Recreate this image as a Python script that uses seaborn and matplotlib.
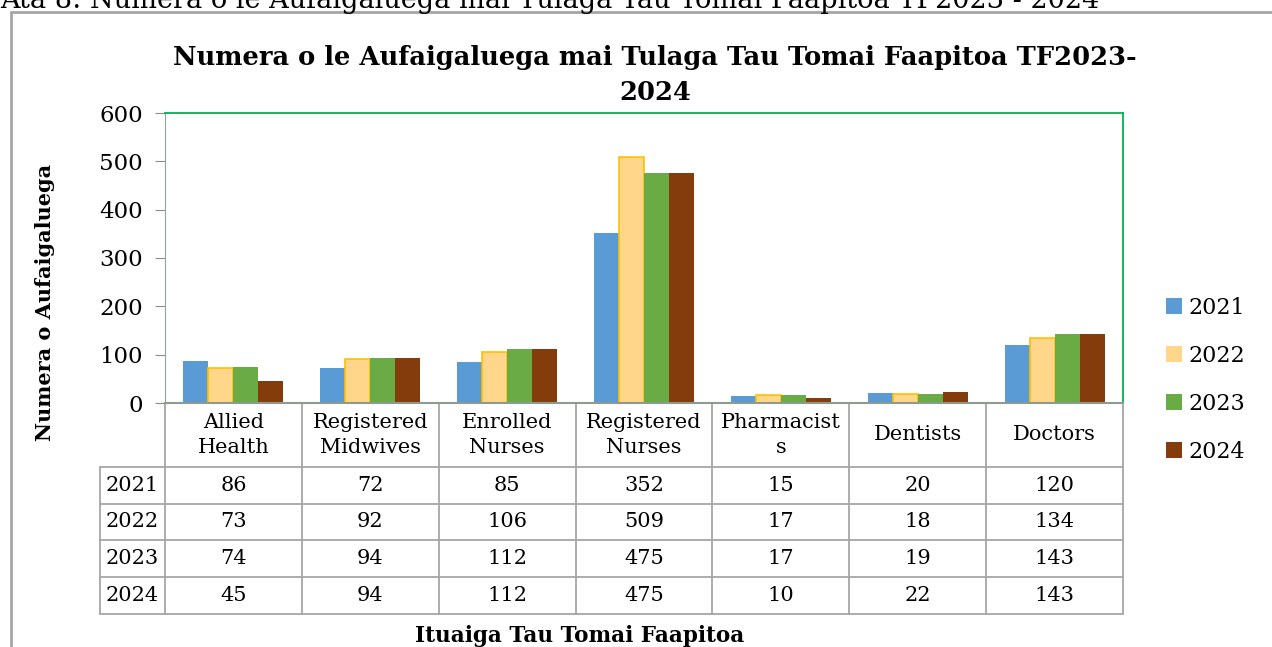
import pandas as pd
import seaborn as sns
import matplotlib.pyplot as plt
import matplotlib.transforms as mtransforms
from matplotlib.lines import Line2D

# data
categories = ["Allied\nHealth", "Registered\nMidwives", "Enrolled\nNurses", "Registered\nNurses",
              "Pharmacist\ns", "Dentists", "Doctors"]
years = ["2021", "2022", "2023", "2024"]
v2021 = [86, 72, 85, 352, 15, 20, 120]
v2022 = [73, 92, 106, 509, 17, 18, 134]
v2023 = [74, 94, 112, 475, 17, 19, 143]
v2024 = [45, 94, 112, 475, 10, 22, 143]
colors = ["#5B9BD5", "#FFD68A", "#6AAB45", "#843C0C"]

series = dict(zip(years, [v2021, v2022, v2023, v2024]))
df = pd.DataFrame([
    {"category": c, "year": y, "value": vals[i]}
    for y, vals in series.items() for i, c in enumerate(categories)
])

sns.set_style("white")
plt.rcParams["font.family"] = ["DejaVu Serif"]
plt.rcParams["text.color"] = "black"
plt.rcParams["ytick.labelcolor"] = "black"

W, H = 1272, 647
fig = plt.figure(figsize=(W / 100, H / 100), dpi=100)

def fx(px):
    return px / W

def fy(py):
    return 1 - py / H

ax = fig.add_axes([fx(165), fy(403), fx(1123) - fx(165), fy(113) - fy(403)])
sns.barplot(data=df, x="category", y="value", hue="year", palette=colors,
            width=0.73, saturation=1, linewidth=0, ax=ax, legend=True)
for bar in ax.containers[1]:
    bar.set_edgecolor("#FFC000")
    bar.set_linewidth(1.2)

ax.set_ylim(0, 600)
ax.set_yticks(range(0, 601, 100))
ax.set_xlim(-0.5, len(categories) - 0.5)
ax.set_xticks([])
ax.set_xlabel("")
ax.set_ylabel("")
ax.tick_params(axis="y", labelsize=16.5, length=7, color="#8C8C8C", direction="out", left=True, pad=9)
for s in ["top", "right"]:
    ax.spines[s].set_color("#00B050")
    ax.spines[s].set_linewidth(1.3)
ax.spines["left"].set_color("#8FA89A")
ax.spines["bottom"].set_color("#8C9A90")
ax.spines["bottom"].set_linewidth(1.5)

# legend
handles, labels = ax.get_legend_handles_labels()
ax.legend(handles, labels, loc="center left", bbox_to_anchor=(fx(1146), fy(380)),
          bbox_transform=fig.transFigure, frameon=False, fontsize=16,
          handlelength=0.7, handleheight=0.7, handletextpad=0.3, labelspacing=1.17)

# data table below the axis
tr = mtransforms.blended_transform_factory(ax.transData, fig.transFigure)
grid = "#A6A6A6"
rows_y = [403, 467, 503.5, 540, 577, 614]
n = len(categories)
for py in rows_y[1:]:
    fig.add_artist(Line2D([fx(100), fx(1123)], [fy(py), fy(py)], color=grid, lw=1.3))
for i in range(n + 1):
    ax.add_artist(Line2D([i - 0.5, i - 0.5], [fy(403), fy(614)], color=grid, lw=1.3,
                         transform=tr, clip_on=False))
fig.add_artist(Line2D([fx(100), fx(100)], [fy(467), fy(614)], color=grid, lw=1.3))

for i, c in enumerate(categories):
    ax.text(i, fy(435), c, transform=tr, ha="center", va="center", fontsize=15,
            linespacing=1.45, clip_on=False)
for r, y in enumerate(years):
    yc = fy((rows_y[r + 1] + rows_y[r + 2]) / 2)
    fig.text(fx(132), yc, y, ha="center", va="center", fontsize=15)
    for i, v in enumerate(series[y]):
        ax.text(i, yc, str(v), transform=tr, ha="center", va="center", fontsize=15,
                clip_on=False)

# titles and labels
fig.text(fx(655), fy(75), "Numera o le Aufaigaluega mai Tulaga Tau Tomai Faapitoa TF2023-\n2024",
         ha="center", va="center", fontsize=18.5, fontweight="bold", linespacing=1.45)
fig.text(fx(45), fy(302), "Numera o Aufaigaluega", rotation=90, ha="center", va="center",
         fontsize=15, fontweight="bold")
fig.text(fx(580), fy(636), "Ituaiga Tau Tomai Faapitoa", ha="center", va="center",
         fontsize=15.5, fontweight="bold")
fig.text(fx(0), fy(8), "Ata 8: Numera o le Aufaigaluega mai Tulaga Tau Tomai Faapitoa TF2023 - 2024",
         ha="left", va="baseline", fontsize=19.5)

# outer chart frame
fig.add_artist(Line2D([fx(11), fx(11)], [fy(12), 0], color="#A6A6A6", lw=2))
fig.add_artist(Line2D([fx(11), 1], [fy(12), fy(12)], color="#A6A6A6", lw=2))

fig.savefig("out.png", dpi=100)
